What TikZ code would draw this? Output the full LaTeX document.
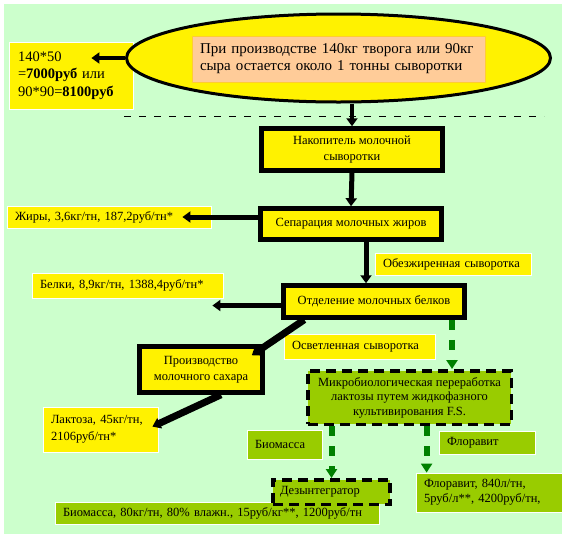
\documentclass[tikz,border=0pt]{standalone}
\usepackage{fontspec}
\setmainfont{Liberation Serif}
\usetikzlibrary{shapes.geometric, arrows.meta, calc}
\definecolor{bggreen}{HTML}{CCFFCC}
\definecolor{leafgreen}{HTML}{99CC00}
\definecolor{arrowgreen}{HTML}{008000}
\definecolor{peach}{HTML}{FFCC99}
\definecolor{peachline}{HTML}{FFCC33}
\tikzset{
    txt/.style={font=\fontsize{12.5}{16}\selectfont},
    thickbox/.style={draw=black, line width=4.5pt, fill=yellow, align=center, inner sep=0pt, txt},
    labelbox/.style={draw=white, line width=0.8pt, fill=yellow, inner ysep=0pt, inner xsep=8pt, align=left, txt},
    olivebox/.style={labelbox, fill=leafgreen},
    dashbox/.style={draw=black, line width=3.5pt, dash pattern=on 10pt off 6pt, fill=leafgreen, inner sep=0pt, align=center, txt},
    flowarrow/.style={line width=5pt, -{Triangle[width=11pt,length=8pt]}},
    greenarrow/.style={draw=arrowgreen, line width=6pt, dash pattern=on 10pt off 10pt, -{Triangle[width=11pt,length=9pt]}},
}
\begin{document}
\begin{tikzpicture}[x=1pt, y=-1pt]
        \useasboundingbox (0,0) rectangle (567,539);
        % Background
        \fill[bggreen] (4,4) rectangle (562,534);
        \draw[line width=0.8pt, dash pattern=on 7pt off 8pt] (124,116) -- (544,116);
        % Top: whey and its price
        \node[labelbox, text width=106pt, inner xsep=9pt, minimum height=67pt, font=\fontsize{14.5}{17.5}\selectfont] (money) at (71,75.5) {140*50\\=\textbf{7000руб} или\\90*90=\textbf{8100руб}};
        \node[ellipse, draw, line width=3pt, fill=yellow, minimum width=424pt, minimum height=88pt] (whey) at (338.5,58) {};
        \node[draw=peachline, fill=peach, line width=0.8pt, minimum width=293pt, minimum height=46pt, text width=277pt, inner xsep=8pt, inner ysep=0pt, align=left, font=\fontsize{15}{17}\selectfont] (fact) at (338.5,59) {При производстве 140кг творога или 90кг\\сыра остается около 1 тонны сыворотки};
        % Process steps
        \node[thickbox, minimum width=181pt, minimum height=42pt] (store) at (352,149.5) {Накопитель молочной\\сыворотки};
        \node[thickbox, minimum width=181pt, minimum height=31pt] (fatsep) at (351,224) {Сепарация молочных жиров};
        \node[thickbox, minimum width=181pt, minimum height=32pt] (protsep) at (374,301.5) {Отделение молочных белков};
        \node[thickbox, minimum width=123pt, minimum height=46pt] (sugar) at (201,369.5) {Производство\\молочного сахара};
        \node[dashbox, minimum width=203.5pt, minimum height=53.5pt, font=\fontsize{12.5}{14.5}\selectfont] (micro) at (409.5,397.5) {Микробиологическая переработка\\лактозы путем жидкофазного\\культивирования F.S.};
        % Products and labels
        \node[labelbox, text width=188pt, minimum height=22pt] (fat) at (109,217) {Жиры, 3,6кг/тн, 187,2руб/тн*};
        \node[labelbox, text width=140pt, minimum height=22pt] (skim) at (453,264) {Обезжиренная сыворотка};
        \node[labelbox, text width=175pt, minimum height=25pt] (prot) at (127.5,285.5) {Белки, 8,9кг/тн, 1388,4руб/тн*};
        \node[labelbox, text width=135pt, minimum height=25pt] (clear) at (359.5,346.5) {Осветленная сыворотка};
        \node[labelbox, text width=99pt, minimum height=45pt, font=\fontsize{12.5}{17}\selectfont] (lactose) at (100.5,429.5) {Лактоза, 45кг/тн,\\2106руб/тн*};
        \node[olivebox, text width=59pt, minimum height=29pt] (biolab) at (284.5,444.5) {Биомасса};
        \node[olivebox, text width=80pt, minimum height=23pt] (florlab) at (487,442.5) {Флоравит};
        \node[olivebox, text width=308pt, minimum height=22pt] (biobot) at (217,513) {Биомасса, 80кг/тн, 80\% влажн., 15руб/кг**, 1200руб/тн};
        \node[dashbox, text width=103pt, inner xsep=7pt, align=left, minimum height=24.5pt] (dez) at (331.5,492) {Дезынтегратор};
        \node[olivebox, text width=130pt, minimum height=39pt, font=\fontsize{12.5}{15}\selectfont] (florbox) at (489,492.5) {Флоравит, 840л/тн,\\5руб/л**, 4200руб/тн,};
        % Black arrows
        \coordinate (moneyin) at ([xshift=-42pt]money.east);
        \draw[flowarrow, line width=4pt] (whey.west) -- (whey.west -| moneyin);
        \draw[flowarrow, line width=3.5pt] (store.north |- whey.south) -- (store.north);
        \draw[flowarrow] (store.south) -- (fatsep.north);
        \draw[flowarrow, shorten >=-29pt] (fatsep.west |- fat.east) -- (fat.east);
        \draw[flowarrow] ([xshift=15pt]fatsep.south) -- ([xshift=15pt]fatsep.south |- protsep.north);
        \draw[flowarrow, shorten >=-11pt] ([yshift=-4pt]protsep.west) -- ([yshift=-4pt]protsep.west -| prot.east);
        \draw[flowarrow, line width=7pt] ($(protsep.south west)+(23,0)$) -- ($(sugar.north east)+(-13,11)$);
        \draw[flowarrow, line width=7pt] ($(sugar.south)+(20,0)$) -- ($(lactose.north east)+(-6,20)$);
        % Green arrows
        \coordinate (florin) at ([xshift=11pt]florbox.north west);
        \draw[greenarrow] ([xshift=78pt]protsep.south) -- ([xshift=78pt]protsep.south |- micro.north);
        \draw[greenarrow] (dez.north |- micro.south) -- (dez.north);
        \draw[greenarrow] (florin |- micro.south) -- (florin);
    \end{tikzpicture}
\end{document}
